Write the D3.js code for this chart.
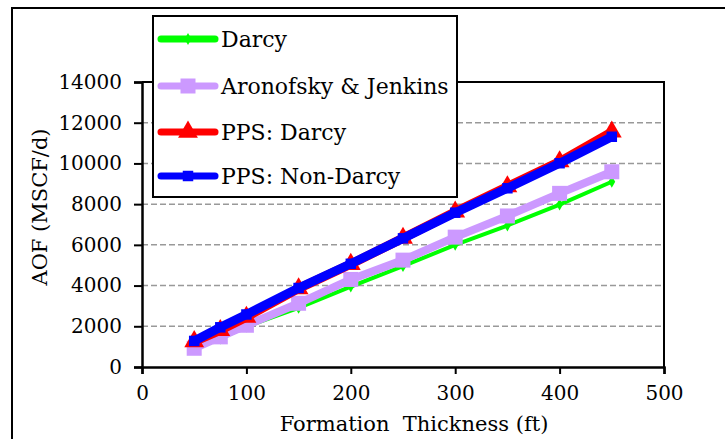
<!DOCTYPE html>
<html>
<head>
<meta charset="utf-8">
<script src="https://cdn.jsdelivr.net/npm/d3@7"></script>
<style>
  body { margin: 0; background: #fff; }
</style>
</head>
<body>
<div id="chart"></div>
<script>
// Data
const thickness = [50, 75, 100, 150, 200, 250, 300, 350, 400, 450];
const darcy = [980, 1400, 1980, 2900, 3950, 4950, 6000, 6950, 7980, 9100];
const aronofsky = [920, 1480, 2050, 3130, 4300, 5250, 6380, 7420, 8530, 9590];
const ppsDarcy = [1250, 1800, 2450, 3850, 5050, 6330, 7620, 8860, 10090, 11550];
const ppsNonDarcy = [1280, 1950, 2580, 3880, 5070, 6320, 7580, 8780, 10010, 11310];
const xTicks = [0, 100, 200, 300, 400, 500];
const yTicks = [0, 2000, 4000, 6000, 8000, 10000, 12000, 14000];
const seriesNames = ['Darcy', 'Aronofsky & Jenkins', 'PPS: Darcy', 'PPS: Non-Darcy'];

const W = 725, H = 439;
const plot = { left: 142, right: 664, top: 82, bottom: 367 };
const FONT = '"DejaVu Serif", serif';

const svg = d3.select('#chart').append('svg')
    .attr('width', W)
    .attr('height', H);

// outer frame
svg.append('rect')
    .attr('x', 12).attr('y', 8)
    .attr('width', 900).attr('height', 600)
    .attr('fill', 'none')
    .attr('stroke', '#000')
    .attr('stroke-width', 2);

const x = d3.scaleLinear().domain([0, 500]).range([plot.left, plot.right]);
const y = d3.scaleLinear().domain([0, 14000]).range([plot.bottom, plot.top]);

// grid lines
svg.append('g')
    .selectAll('line')
    .data(yTicks.filter(d => d > 0 && d < 14000))
    .enter().append('line')
    .attr('x1', plot.left).attr('x2', plot.right)
    .attr('y1', d => y(d)).attr('y2', d => y(d))
    .attr('stroke', '#999')
    .attr('stroke-width', 1.5)
    .attr('stroke-dasharray', '6,3');

// plot border (top / right)
svg.append('path')
    .attr('d', `M${plot.left},${plot.top}H${plot.right}V${plot.bottom}`)
    .attr('fill', 'none')
    .attr('stroke', '#000')
    .attr('stroke-width', 2);

// axes
const xAxis = d3.axisBottom(x).tickValues(xTicks).tickFormat(d3.format('d')).tickSize(7).tickPadding(12);
const yAxis = d3.axisLeft(y).tickValues(yTicks).tickFormat(d3.format('d')).tickSize(8).tickPadding(12);

const gx = svg.append('g')
    .attr('transform', `translate(0,${plot.bottom})`)
    .call(xAxis);
const gy = svg.append('g')
    .attr('transform', `translate(${plot.left},0)`)
    .call(yAxis);

[gx, gy].forEach(g => {
    g.attr('font-family', FONT).attr('font-size', 20);
    g.select('.domain').attr('stroke', '#000').attr('stroke-width', 2.5);
    g.selectAll('.tick line').attr('stroke', '#000').attr('stroke-width', 2);
    g.selectAll('.tick text').attr('fill', '#000');
});
gx.selectAll('.tick text').attr('dy', '0.71em');

// axis titles
svg.append('text')
    .attr('x', 414).attr('y', 431)
    .attr('text-anchor', 'middle')
    .attr('font-family', FONT)
    .attr('font-size', 21)
    .attr('xml:space', 'preserve')
    .style('white-space', 'pre')
    .text('Formation  Thickness (ft)');

svg.append('text')
    .attr('transform', 'translate(47,207) rotate(-90)')
    .attr('text-anchor', 'middle')
    .attr('font-family', FONT)
    .attr('font-size', 21)
    .text('AOF (MSCF/d)');

// series
const series = [
    { name: seriesNames[0], values: darcy, color: '#00ff00', width: 4, marker: 'diamond', size: 40 },
    { name: seriesNames[1], values: aronofsky, color: '#cc99ff', width: 8, marker: 'square', size: 225 },
    { name: seriesNames[2], values: ppsDarcy, color: '#ff0000', width: 9, marker: 'triangle', size: 170 },
    { name: seriesNames[3], values: ppsNonDarcy, color: '#0000ff', width: 9, marker: 'square', size: 110 }
];

const symbolType = { diamond: d3.symbolDiamond, square: d3.symbolSquare, triangle: d3.symbolTriangle };

const line = d3.line()
    .x(d => x(d[0]))
    .y(d => y(d[1]));

series.forEach(s => {
    const pts = thickness.map((t, i) => [t, s.values[i]]);
    const g = svg.append('g');
    g.append('path')
        .datum(pts)
        .attr('d', line)
        .attr('fill', 'none')
        .attr('stroke', s.color)
        .attr('stroke-width', s.width)
        .attr('stroke-linejoin', 'round');
    g.selectAll('path.marker')
        .data(pts)
        .enter().append('path')
        .attr('class', 'marker')
        .attr('d', d3.symbol().type(symbolType[s.marker]).size(s.size))
        .attr('transform', d => `translate(${x(d[0])},${y(d[1])})`)
        .attr('fill', s.color);
});

// legend
const legend = svg.append('g');
legend.append('rect')
    .attr('x', 153).attr('y', 16)
    .attr('width', 304).attr('height', 181)
    .attr('fill', '#fff')
    .attr('stroke', '#000')
    .attr('stroke-width', 2);

const legendY = [39, 86, 132, 176];
series.forEach((s, i) => {
    const ly = legendY[i];
    legend.append('line')
        .attr('x1', 161).attr('x2', 215)
        .attr('y1', ly).attr('y2', ly)
        .attr('stroke', s.color)
        .attr('stroke-width', 7)
        .attr('stroke-linecap', 'round');
    legend.append('path')
        .attr('d', d3.symbol().type(symbolType[s.marker]).size(s.size))
        .attr('transform', `translate(188,${ly})`)
        .attr('fill', s.color);
    legend.append('text')
        .attr('x', 221).attr('y', ly + 8)
        .attr('font-family', FONT)
        .attr('font-size', 22)
        .text(s.name);
});
</script>
</body>
</html>
